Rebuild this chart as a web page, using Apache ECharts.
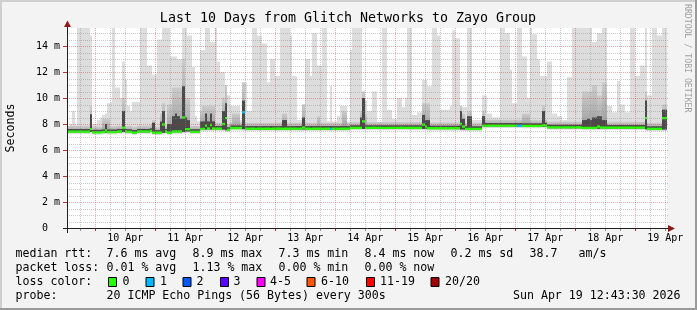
<!DOCTYPE html>
<html><head><meta charset="utf-8">
<script src="https://cdn.jsdelivr.net/npm/echarts@6/dist/echarts.min.js"></script>
<style>html,body{margin:0;padding:0;background:#f3f3f3}#c{width:697px;height:310px}</style>
</head><body><div id="c"></div>
<script>
// ---- data (hourly, 240 hours ending Sun Apr 19 12:43:30 2026), values in ms ----
const median = [
7.41,7.41,7.41,7.41,7.41,7.41,7.41,7.41,7.41,7.60,
7.35,7.35,7.35,7.35,7.38,7.50,7.38,7.38,7.38,7.38,
7.42,7.42,7.72,7.42,7.40,7.40,7.33,7.33,7.42,7.42,
7.42,7.42,7.42,7.47,7.33,7.33,7.33,7.33,7.96,7.42,
7.33,7.33,7.42,7.42,7.42,7.42,8.50,7.60,7.60,7.40,
7.40,7.40,7.40,7.62,7.62,7.87,7.65,7.92,7.65,7.65,
7.65,7.65,8.00,8.45,7.55,7.69,7.69,7.69,7.69,7.69,
8.90,7.64,7.63,7.64,7.64,7.63,7.64,7.64,7.63,7.64,
7.64,7.63,7.64,7.64,7.65,7.64,7.63,7.64,7.64,7.64,
7.64,7.64,7.63,7.64,7.72,7.64,7.64,7.63,7.64,7.64,
7.64,7.64,7.63,7.64,7.64,7.62,7.64,7.64,7.63,7.64,
7.64,7.64,7.64,7.70,7.70,7.70,7.70,7.70,8.20,7.70,
7.70,7.70,7.71,7.70,7.70,7.70,7.69,7.70,7.70,7.70,
7.70,7.70,7.70,7.71,7.70,7.70,7.70,7.69,7.70,7.70,
7.70,7.70,7.95,7.80,7.67,7.67,7.67,7.67,7.67,7.67,
7.67,7.67,7.67,7.67,7.67,7.67,7.67,8.00,7.80,7.62,
7.62,7.62,7.62,7.62,7.62,7.62,7.87,7.87,7.87,7.87,
7.87,7.87,7.87,7.87,7.87,7.87,7.87,7.87,7.87,7.87,
7.87,7.87,7.85,7.85,7.85,7.85,7.85,7.85,7.85,7.85,
7.90,7.90,7.74,7.74,7.74,7.74,7.74,7.74,7.74,7.74,
7.74,7.74,7.74,7.74,7.74,7.74,7.70,7.70,7.70,7.70,
7.70,7.70,7.80,7.72,7.72,7.72,7.72,7.72,7.72,7.72,
7.72,7.72,7.72,7.72,7.72,7.72,7.72,7.72,7.72,7.72,
7.72,8.45,7.63,7.63,7.63,7.63,7.63,7.63,8.45,8.45];

const pingMin = [
7.24,7.24,7.24,7.24,7.24,7.24,7.24,7.24,7.24,7.26,
7.18,7.18,7.18,7.18,7.20,7.22,7.20,7.20,7.20,7.20,
7.24,7.24,7.26,7.24,7.22,7.22,7.16,7.16,7.24,7.24,
7.24,7.24,7.24,7.26,7.16,7.16,7.16,7.16,7.20,7.24,
7.16,7.16,7.24,7.24,7.24,7.24,7.26,7.30,7.30,7.22,
7.22,7.22,7.22,7.44,7.44,7.46,7.47,7.46,7.47,7.47,
7.47,7.47,7.45,7.40,7.37,7.50,7.50,7.50,7.50,7.50,
7.48,7.46,7.46,7.46,7.46,7.46,7.46,7.46,7.46,7.46,
7.46,7.46,7.46,7.46,7.46,7.46,7.46,7.46,7.46,7.46,
7.46,7.46,7.46,7.46,7.46,7.46,7.46,7.46,7.46,7.46,
7.46,7.46,7.46,7.46,7.46,7.44,7.46,7.46,7.46,7.46,
7.46,7.46,7.46,7.52,7.52,7.52,7.52,7.52,7.50,7.52,
7.52,7.52,7.52,7.52,7.52,7.52,7.52,7.52,7.52,7.52,
7.52,7.52,7.52,7.52,7.52,7.52,7.52,7.52,7.52,7.52,
7.52,7.52,7.50,7.52,7.49,7.49,7.49,7.49,7.49,7.49,
7.49,7.49,7.49,7.49,7.49,7.49,7.49,7.46,7.46,7.44,
7.44,7.44,7.44,7.44,7.44,7.44,7.69,7.69,7.69,7.69,
7.69,7.69,7.69,7.69,7.69,7.69,7.69,7.69,7.69,7.69,
7.69,7.69,7.67,7.67,7.67,7.67,7.67,7.67,7.67,7.67,
7.68,7.68,7.56,7.56,7.56,7.56,7.56,7.56,7.56,7.56,
7.56,7.56,7.56,7.56,7.56,7.56,7.52,7.52,7.52,7.52,
7.52,7.52,7.52,7.54,7.54,7.54,7.54,7.54,7.54,7.54,
7.54,7.54,7.54,7.54,7.54,7.54,7.54,7.54,7.54,7.54,
7.54,7.48,7.45,7.45,7.45,7.45,7.45,7.45,7.45,7.45];

const smokeDark = [
7.61,7.61,7.61,7.61,7.61,7.61,7.61,7.61,7.61,8.75,
7.55,7.55,7.55,7.55,7.58,8.00,7.58,7.58,7.58,7.58,
7.62,7.62,9.00,7.62,7.60,7.60,7.53,7.53,7.62,7.62,
7.62,7.62,7.62,7.67,8.10,7.53,7.53,8.20,9.00,7.62,
8.00,8.00,8.60,8.80,8.60,8.40,10.90,8.50,8.30,7.60,
7.60,7.60,7.60,8.20,8.20,8.80,8.20,8.80,8.20,7.85,
7.85,7.85,9.00,9.60,7.75,7.89,7.89,7.89,7.89,7.89,
9.80,7.84,7.84,7.84,7.84,7.84,7.84,7.84,7.84,7.84,
7.84,7.84,7.84,7.84,7.84,7.84,8.30,8.30,7.84,7.84,
7.84,7.84,7.84,7.84,8.50,7.84,7.84,7.84,7.84,7.84,
7.84,7.84,7.84,7.84,7.84,7.84,7.84,7.84,7.84,7.84,
7.84,7.84,7.84,7.90,7.90,7.90,7.90,8.50,10.00,7.90,
7.90,7.90,7.90,7.90,7.90,7.90,7.90,7.90,7.90,7.90,
7.90,7.90,7.90,7.90,7.90,7.90,7.90,7.90,7.90,7.90,
7.90,7.90,8.70,8.30,8.30,7.87,7.87,7.87,7.87,7.87,
7.87,7.87,7.87,7.87,7.87,7.87,7.87,9.00,8.40,7.82,
8.60,8.60,7.82,7.82,7.82,7.82,8.60,8.07,8.07,8.07,
8.07,8.07,8.07,8.07,8.07,8.07,8.07,8.07,8.07,8.07,
8.07,8.07,8.05,8.05,8.05,8.05,8.05,8.05,8.05,8.05,
9.00,8.10,7.94,7.94,7.94,7.94,7.94,7.94,7.94,7.94,
7.94,7.94,7.94,7.94,7.94,7.94,8.30,8.30,8.40,8.30,
8.50,8.50,8.60,8.60,8.30,8.30,7.92,7.92,7.92,7.92,
7.92,7.92,7.92,7.92,7.92,7.92,7.92,7.92,7.92,7.92,
7.92,9.80,7.83,7.83,7.83,7.83,7.83,7.83,9.10,9.10];

const smokeMid = [
7.86,7.86,7.86,7.86,7.86,7.86,7.86,7.86,7.86,9.40,
7.80,7.80,7.80,7.80,8.40,8.40,8.40,7.83,7.83,7.83,
7.87,7.87,10.00,7.87,7.85,7.85,7.78,7.78,7.87,7.87,
7.87,7.87,7.87,7.92,8.30,7.78,7.78,8.80,9.60,7.87,
9.50,9.50,10.80,10.80,10.80,10.80,13.00,10.00,10.00,7.85,
7.85,7.85,7.85,9.00,9.40,9.40,9.40,9.40,9.40,8.10,
8.10,8.10,10.00,11.00,8.00,8.14,8.80,8.80,8.80,8.14,
11.20,8.09,8.09,8.09,8.09,8.09,8.09,8.09,8.09,8.09,
8.09,8.09,8.09,8.09,8.09,8.09,8.80,8.80,8.09,8.09,
8.09,8.09,8.09,8.09,9.50,8.09,8.09,8.09,8.09,8.09,
8.60,8.09,8.09,8.09,8.09,8.09,8.09,8.09,8.09,8.09,
9.00,9.00,8.09,8.15,8.15,8.15,8.15,9.00,10.50,8.80,
8.15,8.15,8.15,8.15,8.15,8.15,8.15,8.15,8.15,8.15,
8.15,8.15,8.15,8.15,8.15,8.15,8.15,8.15,8.15,8.15,
8.15,8.15,9.60,9.60,9.60,8.12,8.12,8.12,8.12,8.12,
8.12,8.12,8.12,8.12,8.12,8.12,8.12,9.40,8.80,8.07,
9.00,9.00,8.07,8.07,8.07,8.07,9.00,8.32,8.32,8.32,
8.32,8.32,8.32,8.32,8.32,8.32,8.32,8.32,8.32,8.32,
8.32,8.32,8.80,8.80,8.80,8.30,8.30,8.30,8.30,8.30,
9.40,8.35,8.19,8.19,8.19,8.19,8.19,8.19,8.19,8.19,
8.19,8.19,8.19,8.19,8.19,8.19,10.50,10.50,10.50,10.50,
11.00,11.00,10.20,10.20,11.20,11.20,8.17,8.17,8.17,8.17,
8.17,8.17,8.17,8.17,8.17,8.17,8.17,8.17,8.17,8.17,
8.17,10.50,8.08,8.08,8.08,8.08,8.08,8.08,9.50,9.50];

const smokeTop = [
7.8,8.0,9.0,7.9,15.5,15.5,15.5,15.5,15.5,14.8,
8.0,8.0,8.3,8.5,8.7,8.8,9.6,9.7,15.5,10.8,
10.8,10.0,12.8,11.4,9.4,9.0,9.7,9.7,9.7,15.5,
15.5,15.5,12.5,12.5,11.8,11.8,14.5,14.5,15.5,15.5,
15.5,13.2,13.2,13.2,13.0,13.0,15.5,15.5,14.8,14.8,
12.4,8.6,8.2,13.7,13.7,15.5,15.5,14.3,14.3,15.5,
12.8,12.0,12.0,10.2,10.2,9.4,9.4,9.4,9.4,8.3,
11.2,11.2,9.0,9.0,15.5,15.5,14.8,14.8,14.2,14.2,
11.2,13.0,13.0,11.7,11.7,15.5,15.5,15.5,15.5,14.8,
11.7,11.7,8.3,8.3,9.5,13.0,13.0,11.7,15.0,15.0,
12.5,12.5,15.5,15.5,8.2,10.9,8.2,8.2,8.6,9.4,
9.4,9.4,8.2,13.7,15.5,15.5,15.5,15.5,9.8,9.8,
9.0,9.0,10.5,10.5,8.1,8.1,15.5,15.5,9.1,9.1,
8.4,8.4,10.0,10.0,9.3,10.0,15.5,15.5,8.7,8.7,
8.9,8.9,11.4,11.4,10.9,10.9,15.5,15.5,14.8,9.1,
9.1,9.1,9.1,9.4,15.2,14.6,14.6,9.3,9.3,9.3,
15.5,15.5,8.3,8.3,8.3,8.3,10.2,10.2,8.8,8.8,
8.5,8.5,8.5,15.5,15.5,15.0,15.0,12.2,9.6,9.6,
15.5,15.5,13.2,13.2,10.0,15.5,14.9,14.9,13.0,11.7,
11.7,11.7,12.8,12.8,8.8,8.8,8.6,8.6,8.3,8.3,
11.6,11.6,15.5,15.5,15.5,15.5,15.5,15.5,15.5,15.5,
14.3,14.3,15.0,15.0,15.5,15.5,9.4,9.4,8.9,8.9,
11.3,9.5,9.5,8.9,8.9,15.5,15.5,11.7,11.7,12.5,
12.5,15.5,10.2,10.2,15.5,15.5,14.8,14.8,15.5,15.5];

// hours (index) with packet loss, and lost pings out of 20
const lossHours  = [70, 105, 180, 181];
const lossCounts = [1, 1, 1, 1];

const dayLabels = ['10 Apr','11 Apr','12 Apr','13 Apr','14 Apr','15 Apr','16 Apr','17 Apr','18 Apr','19 Apr'];
const lossLabels = ['0','1','2','3','4-5','6-10','11-19','20/20'];
const lossColors = ['#26ff00','#00b8ff','#0059ff','#5e00ff','#ff00ff','#ff5500','#ff0000','#a10000'];
const rttStats  = ['7.6 ms avg','8.9 ms max','7.3 ms min','8.4 ms now','0.2 ms sd','38.7','am/s'];
const lossStats = ['0.01 % avg','1.13 % max','0.00 % min','0.00 % now'];
const titleText = 'Last 10 Days from Glitch Networks to Zayo Group';
const probeText = '20 ICMP Echo Pings (56 Bytes) every 300s';
const dateText  = 'Sun Apr 19 12:43:30 2026';

// ---- layout ----
const YMAX = 200 / 13;
const START_HOUR_OF_DAY = 12 + 43.5/60;          // graph starts Apr 9 12:43:30
const FIRST_MIDNIGHT = 24 - START_HOUR_OF_DAY;   // hours from start to Apr 10 00:00
const F = "'DejaVu Sans Mono', monospace";

function lossClass(n){ if(n<=0)return 0; if(n<=3)return n; if(n<=5)return 4; if(n<=10)return 5; if(n<=19)return 6; return 7; }
const lossByHour = median.map(()=>0);
lossHours.forEach((h,i)=>{ lossByHour[h] = lossClass(lossCounts[i]); });

const labelPos = dayLabels.map((d,i)=>FIRST_MIDNIGHT + 12 + 24*i);

// grid lines: [x, y, type]  type 0 v-minor, 1 v-major, 2 h-minor, 3 h-major
const gridLines = [];
for (let h = FIRST_MIDNIGHT - 6; h < 240; h += 6) {
  if (h <= 0) continue;
  const major = Math.abs(((h - FIRST_MIDNIGHT) % 24 + 24) % 24) < 1e-6;
  gridLines.push([h, 0, major ? 1 : 0]);
}
for (let v = 0.5; v < YMAX; v += 0.5) {
  const major = Math.abs(v % 2) < 1e-6;
  gridLines.push([0, v, major ? 3 : 2]);
}

const midFill = new echarts.graphic.LinearGradient(0,0,0,1,[{offset:0,color:'#cbcbcb'},{offset:1,color:'#9c9c9c'}]);
function smokeItem(params, api){
  const k = api.value(0);
  const xa = Math.round(api.coord([k,0])[0]), xb = Math.round(api.coord([k+1,0])[0]);
  const Y = v => api.coord([k, Math.min(v, YMAX)])[1];
  const lo = api.value(1), dk = api.value(2), md = api.value(3), tp = api.value(4);
  const r = (a,b,c) => ({type:'rect', shape:{x:xa, y:Y(b), width:xb-xa, height:Math.max(0,Y(a)-Y(b))}, style:{fill:c}});
  return {type:'group', children:[ r(lo,tp,'#dddddd'), r(lo+0.12,md,midFill), r(lo+0.12,dk,'#4a4a4a') ]};
}
function medianItem(params, api){
  const k = api.value(0), m = api.value(1), c = api.value(2);
  const xa = Math.round(api.coord([k,0])[0]), xb = Math.round(api.coord([k+1,0])[0]);
  const ya = api.coord([k, m+0.09])[1], yb = api.coord([k, m-0.09])[1];
  return {type:'rect', shape:{x:xa, y:ya, width:xb-xa, height:yb-ya}, style:{fill:lossColors[c]}};
}
function gridItem(params, api){
  const t = api.value(2);
  const minorStyle = {stroke:'rgba(140,140,140,0.45)', lineWidth:1, lineDash:[1,1]};
  const majorStyle = {stroke:'rgba(200,40,40,0.38)', lineWidth:1, lineDash:[1,1]};
  if (t < 2) {
    const x = Math.round(api.coord([api.value(0),0])[0]) + 0.5;
    const y1 = api.coord([0,0])[1], y0 = api.coord([0,YMAX])[1];
    return {type:'group', children:[
      {type:'line', shape:{x1:x,y1:y0,x2:x,y2:y1}, style: t===1?majorStyle:minorStyle},
      {type:'line', shape:{x1:x,y1:y1+1,x2:x,y2:y1+3}, style:{stroke: t===1?'#c03030':'#909090', lineWidth:1}}
    ]};
  } else {
    const y = Math.round(api.coord([0,api.value(1)])[1]) + 0.5;
    const x0 = api.coord([0,0])[0], x1 = api.coord([240,0])[0] + 1;
    const ch = [{type:'line', shape:{x1:x0,y1:y,x2:x1,y2:y}, style: t===3?majorStyle:minorStyle}];
    if (t===3) ch.push({type:'line', shape:{x1:x0-4,y1:y,x2:x0,y2:y}, style:{stroke:'#c03030', lineWidth:1}});
    return {type:'group', children:ch};
  }
}

// ---- graphic (frame, texts, legend) ----
const G = [];
const txt = (s, x, y, o={}) => G.push(Object.assign({type:'text', z:100, x, y, style:Object.assign({text:s, font:(o.size||11.6)+'px '+F, fill:o.fill||'#000', textAlign:o.align||'left', textVerticalAlign:'middle'}, o.style||{})}, o.rot!==undefined?{rotation:o.rot}:{}));
// frame shading
G.push({type:'rect', z:100, shape:{x:0,y:0,width:697,height:2}, style:{fill:'#cfcfcf'}});
G.push({type:'rect', z:100, shape:{x:0,y:0,width:2,height:310}, style:{fill:'#cfcfcf'}});
G.push({type:'rect', z:100, shape:{x:0,y:308,width:697,height:2}, style:{fill:'#9a9a9a'}});
G.push({type:'rect', z:100, shape:{x:695,y:0,width:2,height:310}, style:{fill:'#9a9a9a'}});
// axes
G.push({type:'line', z:100, shape:{x1:63,y1:228.5,x2:672,y2:228.5}, style:{stroke:'#202020', lineWidth:1}});
G.push({type:'line', z:100, shape:{x1:67.5,y1:233,x2:67.5,y2:24}, style:{stroke:'#202020', lineWidth:1}});
G.push({type:'polygon', z:101, shape:{points:[[668,225],[675,228.5],[668,232]]}, style:{fill:'#8f1a1a'}});
G.push({type:'polygon', z:101, shape:{points:[[64,27],[67.5,20.5],[71,27]]}, style:{fill:'#8f1a1a'}});
// title & side texts
txt(titleText, 348, 19, {size:13.3, align:'center'});
txt('Seconds', 10.5, 128, {rot:Math.PI/2, align:'center'});
txt('RRDTOOL / TOBI OETIKER', 687.5, 4, {size:8.2, fill:'#a0a0a0', rot:-Math.PI/2});
// legend rows
const rowY = [254, 268, 282, 296];
txt('median rtt:', 15.5, rowY[0]);
[106.5,192.5,278.5,364.5,450.5,529.5,578.5].forEach((x,i)=>txt(rttStats[i], x, rowY[0]));
txt('packet loss:', 15.5, rowY[1]);
[106.5,192.5,278.5,364.5].forEach((x,i)=>txt(lossStats[i], x, rowY[1]));
txt('loss color:', 15.5, rowY[2]);
const boxX = [108.5,146,183,220.5,257,307,366.5,431];
const boxTxtX = [123,160.5,197,234,270.5,321.5,380.5,445.5];
lossLabels.forEach((l,i)=>{
  G.push({type:'rect', z:100, shape:{x:boxX[i], y:277.5, width:8, height:9}, style:{fill:lossColors[i], stroke:'#000', lineWidth:1}});
  txt(l, boxTxtX[i]-0.5, rowY[2]);
});
txt('probe:', 15.5, rowY[3]);
txt(probeText, 106.5, rowY[3]);
txt(dateText, 680.5, rowY[3], {align:'right'});

const chart = echarts.init(document.getElementById('c'));
chart.setOption({
  animation:false,
  backgroundColor:'#f3f3f3',
  grid:{left:67, top:28, width:600, height:200, show:true, backgroundColor:'#ffffff', borderWidth:0},
  xAxis:{type:'value', min:0, max:240, axisLine:{show:false}, axisTick:{show:false}, splitLine:{show:false},
    axisLabel:{customValues:labelPos, fontFamily:F, fontSize:10, color:'#000', margin:5,
      formatter:(v)=>{ const i=Math.round((v-FIRST_MIDNIGHT-12)/24); return dayLabels[i]||''; }}},
  yAxis:{type:'value', min:0, max:YMAX, interval:2, axisLine:{show:false}, axisTick:{show:false}, splitLine:{show:false},
    axisLabel:{fontFamily:F, fontSize:10, color:'#000', margin:7, showMaxLabel:false,
      formatter:(v)=>{ if (Math.abs(v%2)>1e-6) return ''; return v===0 ? '0  ' : (v+' m'); }}},
  graphic:G,
  series:[
    {type:'custom', coordinateSystem:'cartesian2d', clip:true, z:2, silent:true,
     data: median.map((m,k)=>[k, pingMin[k], smokeDark[k], smokeMid[k], smokeTop[k]]),
     encode:{x:0, y:1}, renderItem:smokeItem},
    {type:'custom', coordinateSystem:'cartesian2d', clip:true, z:3, silent:true,
     data: median.map((m,k)=>[k, m, lossByHour[k]]),
     encode:{x:0, y:1}, renderItem:medianItem},
    {type:'custom', coordinateSystem:'cartesian2d', clip:false, z:4, silent:true,
     data: gridLines, encode:{x:0, y:1}, renderItem:gridItem}
  ]
});
</script></body></html>
